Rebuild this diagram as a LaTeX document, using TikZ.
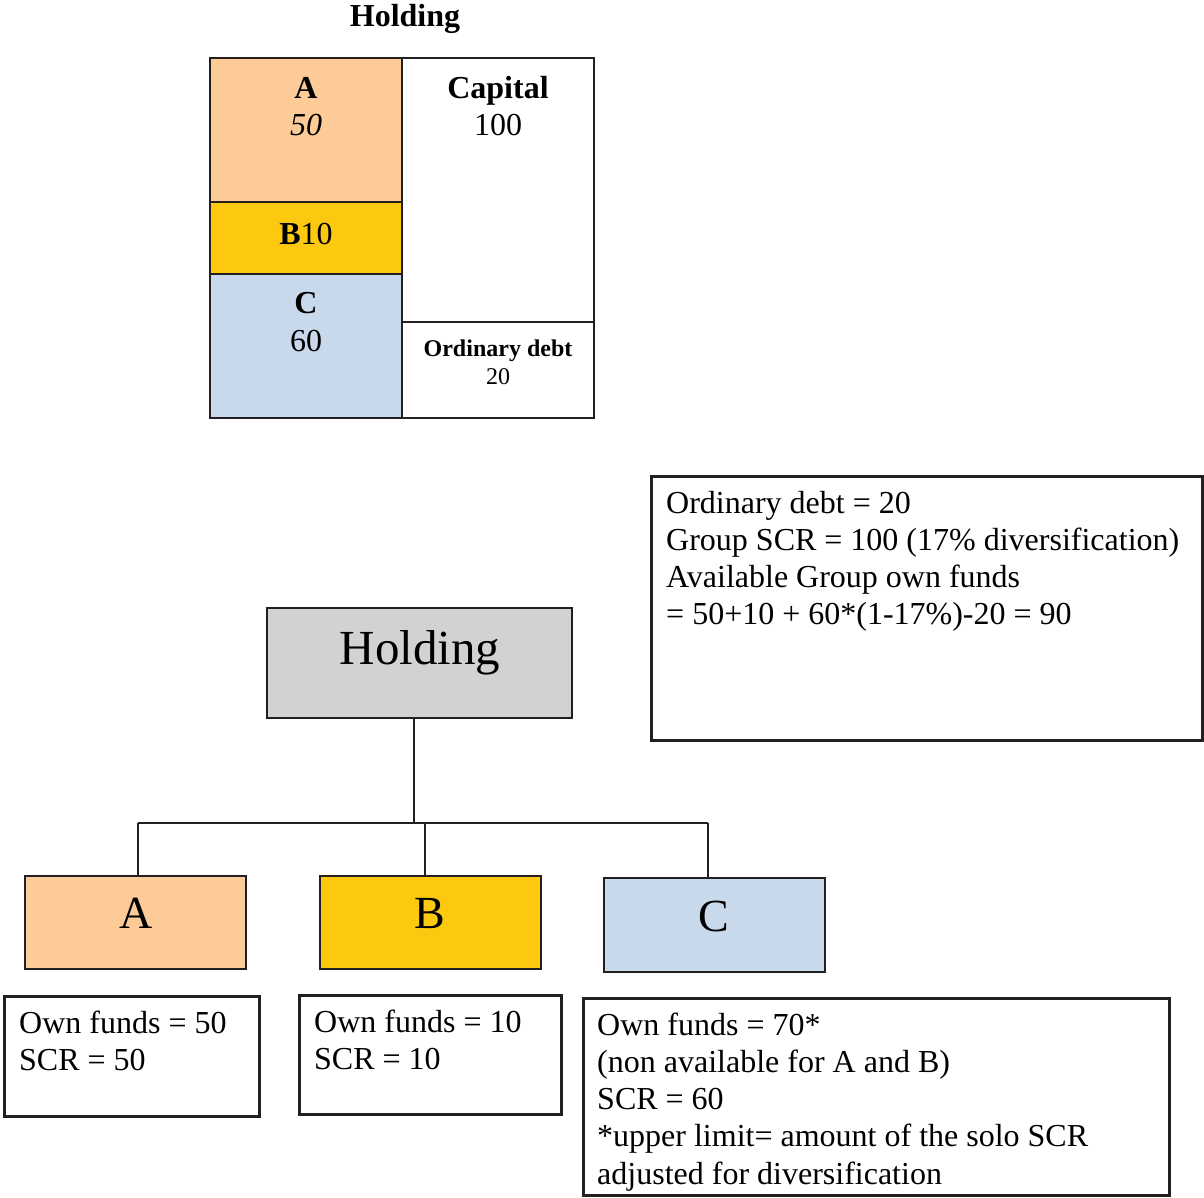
\documentclass[tikz,border=0pt]{standalone}
\usepackage{fontspec}
\setmainfont{Liberation Serif}
\definecolor{linecol}{HTML}{231F20}
\definecolor{orangeA}{HTML}{FCCB98}
\definecolor{yellowB}{HTML}{FCC910}
\definecolor{blueC}{HTML}{C8D9EC}
\definecolor{grayH}{HTML}{D1D2D4}
\begin{document}
\begin{tikzpicture}[x=1pt,y=-1pt]
	\tikzstyle{cell} = [draw=linecol, line width=2pt, inner sep=0pt, outer sep=0pt, minimum width=192pt]
	\tikzstyle{firm} = [draw=linecol, line width=2pt, inner sep=0pt, outer sep=0pt, minimum width=221pt, minimum height=93pt]
	\tikzstyle{info} = [draw=linecol, line width=3pt, inner sep=0pt, outer sep=0pt]
	\tikzstyle{infotext} = [anchor=north west, align=left, inner sep=0pt, font=\fontsize{32}{37.2}\selectfont]
	\tikzstyle{sheettext} = [anchor=base, inner sep=0pt, font=\fontsize{32}{36}\selectfont]
	\tikzstyle{bigtext} = [anchor=base, inner sep=0pt, font=\fontsize{46}{50}\selectfont]
	\tikzstyle{link} = [draw=linecol, line width=1.8pt]

	\useasboundingbox (0,0) rectangle (1204,1198);

	% Balance sheet of the holding
	\node[sheettext, font=\bfseries\fontsize{32}{36}\selectfont] (title) at (405,27) {Holding};
	\node[cell, fill=orangeA, minimum height=144pt] (cellA) at (306,130) {};
	\node[cell, fill=yellowB, minimum height=72pt] (cellB) at (306,238) {};
	\node[cell, fill=blueC, minimum height=144pt] (cellC) at (306,346) {};
	\node[cell, fill=white, minimum height=264pt] (cellCap) at (498,190) {};
	\node[cell, fill=white, minimum height=96pt] (cellDebt) at (498,370) {};

	\node[sheettext] (txtA) at (306,98.5) {\bfseries A};
	\node[sheettext] (valA) at (306,135.5) {\itshape 50};
	\node[sheettext] (txtB) at (306,244.5) {\textbf{B}10};
	\node[sheettext] (txtC) at (306,313.5) {\bfseries C};
	\node[sheettext] (valC) at (306,351.5) {60};
	\node[sheettext] (txtCap) at (498,98.5) {\bfseries Capital};
	\node[sheettext] (valCap) at (498,135.5) {100};
	\node[sheettext, font=\bfseries\fontsize{24}{28}\selectfont] (txtDebt) at (498,356) {Ordinary debt};
	\node[sheettext, font=\fontsize{24}{28}\selectfont] (valDebt) at (498,384) {20};

	% Group structure
	\node[draw=linecol, line width=2pt, fill=grayH, inner sep=0pt, minimum width=305pt, minimum height=110pt] (holding) at (419.5,663) {};
	\node[bigtext, font=\fontsize{49}{54}\selectfont] (holdingtxt) at (420,664) {Holding};

	\node[firm, fill=orangeA] (firmA) at (135.5,922.5) {};
	\node[firm, fill=yellowB] (firmB) at (430,922.5) {};
	\node[firm, fill=blueC, minimum height=94pt] (firmC) at (714,925) {};
	\node[bigtext] (firmAtxt) at (136,928) {A};
	\node[bigtext] (firmBtxt) at (430,928) {B};
	\node[bigtext] (firmCtxt) at (714,931) {C};

	% Connectors
	\coordinate (busA) at (138,823);
	\coordinate (busB) at (425,823);
	\coordinate (busC) at (708,823);
	\draw[link] (holding.south -| 414,0) -- (414,823);
	\draw[link] (busA) -- (busC);
	\draw[link] (busA) -- (busA |- firmA.north);
	\draw[link] (busB) -- (busB |- firmB.north);
	\draw[link] (busC) -- (busC |- firmC.north);

	% Information boxes
	\node[info, minimum width=551pt, minimum height=264pt] (infoG) at (926.5,608) {};
	\node[infotext] (infoGtxt) at (666,490.6) {Ordinary debt = 20\\Group SCR = 100 (17\% diversification)\\Available Group own funds\\= 50+10 + 60*(1-17\%)-20 = 90};

	\node[info, minimum width=255pt, minimum height=120pt] (infoA) at (131.5,1056) {};
	\node[infotext] (infoAtxt) at (19,1010.6) {Own funds = 50\\SCR = 50};

	\node[info, minimum width=262pt, minimum height=119pt] (infoB) at (430,1054.5) {};
	\node[infotext] (infoBtxt) at (314,1009.6) {Own funds = 10\\SCR = 10};

	\node[info, minimum width=586pt, minimum height=197pt] (infoC) at (876,1096.5) {};
	\node[infotext] (infoCtxt) at (597,1012.6) {Own funds = 70*\\(non available for A and B)\\SCR = 60\\*upper limit= amount of the solo SCR\\adjusted for diversification};
\end{tikzpicture}
\end{document}
